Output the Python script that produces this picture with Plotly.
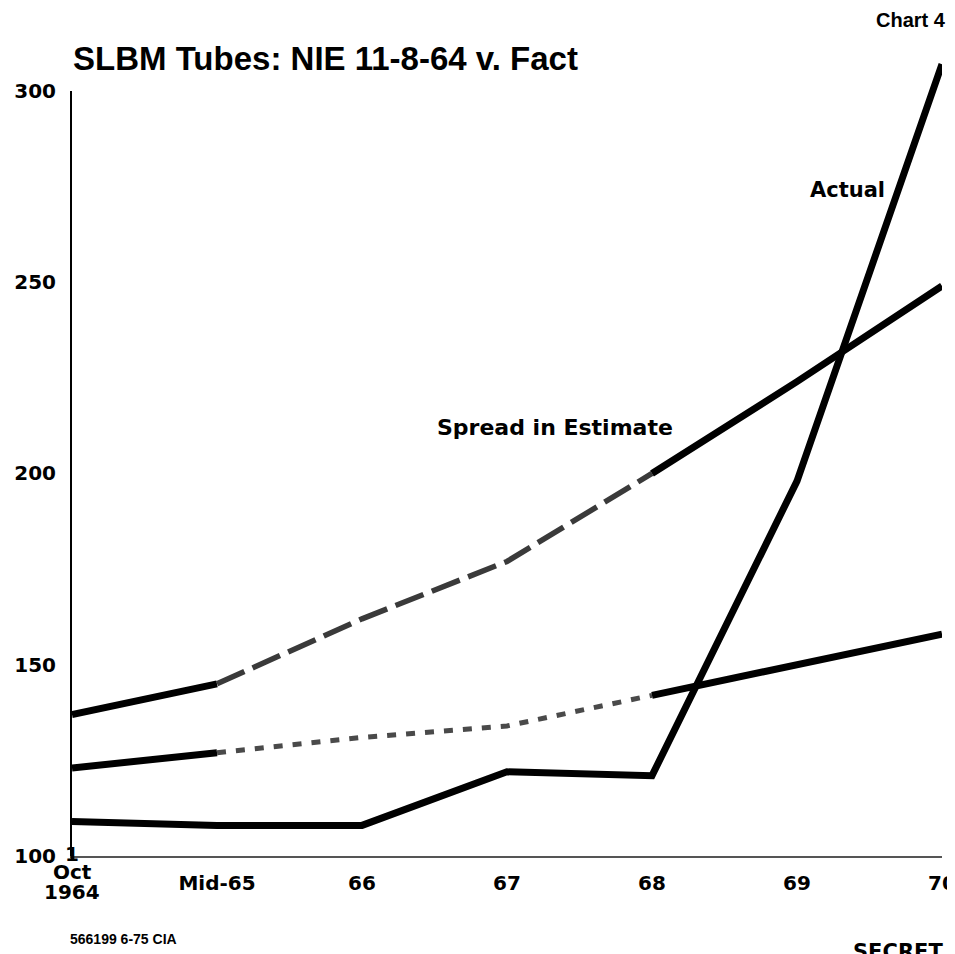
import plotly.graph_objects as go

categories = ["1 Oct 1964", "Mid-65", "66", "67", "68", "69", "70"]
tick_labels = ["", "Mid-65", "66", "67", "68", "69", "70"]
first_label_lines = ["1", "Oct", "1964"]
upper_estimate = [137, 145, 162, 177, 200, 224, 249]
lower_estimate = [123, 127, 131, 134, 142, 150, 158]
actual = [109, 108, 108, 122, 121, 198, 307]
y_ticks = [100, 150, 200, 250, 300]

WIDE = "DejaVu Sans, Verdana, sans-serif"
ARIAL = "Liberation Sans, Arial, Helvetica, sans-serif"

fig = go.Figure()

def seg(xs, ys, color, width, dash):
    fig.add_trace(go.Scatter(x=xs, y=ys, mode="lines", yaxis="y2",
                             line=dict(color=color, width=width, dash=dash),
                             hoverinfo="skip", showlegend=False))

# upper estimate: solid, broken middle, solid
seg(categories[0:2], upper_estimate[0:2], "black", 7, "solid")
seg(categories[1:5], upper_estimate[1:5], "#3a3a3a", 5.5, "30px,9px")
seg(categories[4:7], upper_estimate[4:7], "black", 7, "solid")
# lower estimate
seg(categories[0:2], lower_estimate[0:2], "black", 7, "solid")
seg(categories[1:5], lower_estimate[1:5], "#4a4a4a", 5, "9px,10px")
seg(categories[4:7], lower_estimate[4:7], "black", 7, "solid")
# actual
seg(categories, actual, "black", 7, "solid")

# empty trace keeps the visible y axis in use
fig.add_trace(go.Scatter(x=categories, y=[None] * len(categories), yaxis="y",
                         mode="lines", showlegend=False, hoverinfo="skip"))

Y2_TOP = 312
fig.update_layout(
    width=955, height=954,
    margin=dict(l=64, r=21, t=37, b=106, autoexpand=False),
    paper_bgcolor="white", plot_bgcolor="white",
    showlegend=False,
    xaxis=dict(
        type="category", categoryorder="array", categoryarray=categories,
        tickvals=categories, ticktext=tick_labels, automargin=False,
        range=[0, 6], showgrid=False, zeroline=False,
        showline=True, linecolor="#555", linewidth=1.5,
        ticks="inside", ticklen=17, tickwidth=2, tickcolor="black",
        tickfont=dict(family=WIDE, size=20, color="black", weight="bold"),
        ticklabelstandoff=8, anchor="y",
    ),
    yaxis=dict(
        domain=[0, 200 / (Y2_TOP - 100)], range=[100, 300], automargin=False,
        tickvals=y_ticks, showgrid=False, zeroline=False,
        showline=True, linecolor="black", linewidth=2,
        ticks="inside", ticklen=20, tickwidth=2, tickcolor="black",
        tickfont=dict(family=WIDE, size=20, color="black", weight="bold"),
        ticklabelstandoff=10, anchor="x",
    ),
    yaxis2=dict(domain=[0, 1], range=[100, Y2_TOP], visible=False, automargin=False,
                anchor="x", showgrid=False, zeroline=False),
)

fig.add_annotation(text="SLBM Tubes: NIE 11-8-64 v. Fact", xref="paper", yref="paper",
                   x=0, y=1, xanchor="left", yanchor="bottom", xshift=-1, yshift=-34,
                   showarrow=False,
                   font=dict(family=ARIAL, size=33, color="black", weight="bold"))
fig.add_annotation(text="Chart 4", xref="paper", yref="paper", x=1.0, y=1.0,
                   xanchor="right", yanchor="bottom", xshift=6, yshift=12, showarrow=False,
                   font=dict(family=ARIAL, size=20, color="black", weight="bold"))
fig.add_annotation(text="Spread in Estimate", xref="x", yref="y2", x=3.33, y=212,
                   showarrow=False,
                   font=dict(family=WIDE, size=22, color="black", weight="bold"))
fig.add_annotation(text="Actual", xref="x", yref="y2", x=5.345, y=274,
                   showarrow=False,
                   font=dict(family=WIDE, size=21, color="black", weight="bold"))

# multi-line label of the first category
for line, shift in zip(first_label_lines, [16, -2, -22]):
    fig.add_annotation(text=line, xref="x", yref="paper", x=0, y=0,
                       xanchor="center", yanchor="top", yshift=shift, showarrow=False,
                       font=dict(family=WIDE, size=20, color="black", weight="bold"))

fig.add_annotation(text="566199 6-75 CIA", xref="paper", yref="paper", x=0.0, y=0.0,
                   xanchor="left", yanchor="top", xshift=-4, yshift=-73, showarrow=False,
                   font=dict(family=ARIAL, size=14, color="black", weight="bold"))
fig.add_annotation(text="SECRET", xref="paper", yref="paper", x=1.0, y=0.0,
                   xanchor="right", yanchor="top", xshift=3, yshift=-82, showarrow=False,
                   font=dict(family=WIDE, size=21, color="black", weight="bold"))

fig.write_html("out.html")
